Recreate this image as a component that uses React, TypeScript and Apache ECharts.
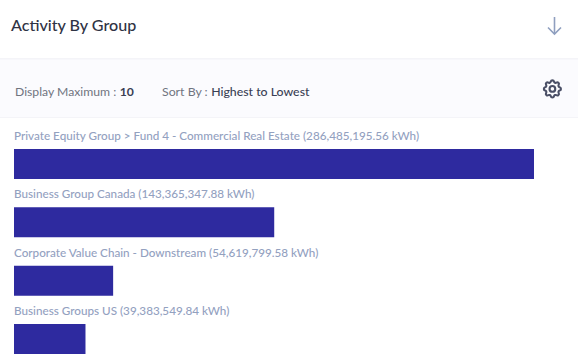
import React, { useEffect, useRef } from "react";
import * as echarts from "echarts";

const title = "Activity By Group";
const categories = [
  "Private Equity Group > Fund 4 - Commercial Real Estate",
  "Business Group Canada",
  "Corporate Value Chain - Downstream",
  "Business Groups US",
];
const values = [286485195.56, 143365347.88, 54619799.58, 39383549.84];
const unit = "kWh";

const FONT = "Lato";
const GEAR =
  "M10.325 4.317c.426-1.756 2.924-1.756 3.35 0a1.724 1.724 0 0 0 2.573 1.066c1.543-.94 3.31.826 2.37 2.37a1.724 1.724 0 0 0 1.065 2.572c1.756.426 1.756 2.924 0 3.35a1.724 1.724 0 0 0-1.066 2.573c.94 1.543-.826 3.31-2.37 2.37a1.724 1.724 0 0 0-2.572 1.065c-.426 1.756-2.924 1.756-3.35 0a1.724 1.724 0 0 0-2.573-1.066c-1.543.94-3.31-.826-2.37-2.37a1.724 1.724 0 0 0-1.065-2.572c-1.756-.426-1.756-2.924 0-3.35a1.724 1.724 0 0 0 1.066-2.573c-.94-1.543.826-3.31 2.37-2.37c1 .608 2.296.07 2.572-1.065zM9 12a3 3 0 1 0 6 0a3 3 0 0 0-6 0";
echarts.graphic.registerShape("gearIcon", echarts.graphic.extendPath(GEAR, {}) as any);

const fmt = (v: number) =>
  v.toLocaleString("en-US", { minimumFractionDigits: 2, maximumFractionDigits: 2 });

export default function App() {
  const ref = useRef<HTMLDivElement>(null);
  useEffect(() => {
    document.body.style.margin = "0";
    const chart = echarts.init(ref.current!, undefined, { renderer: "svg" });
    chart.setOption({
      animation: false,
      backgroundColor: "#ffffff",
      grid: { left: 14, top: 134.8, width: 520, height: 233.4 },
      xAxis: { type: "value", min: 0, max: values[0], show: false },
      yAxis: {
        type: "category",
        inverse: true,
        data: categories,
        show: false,
      },
      series: [
        {
          type: "bar",
          data: values,
          barWidth: 30,
          silent: true,
          itemStyle: { color: "#2e2a9f" },
          label: {
            show: true,
            position: [0, -14],
            align: "left",
            verticalAlign: "middle",
            color: "#93a1bf",
            fontFamily: FONT,
            fontSize: 11.7,
            fontWeight: 500,
            formatter: (p: any) => `${p.name} (${fmt(p.value)} ${unit})`,
          },
        },
      ],
      graphic: [
        { type: "rect", shape: { x: 0, y: 59, width: 578, height: 59 }, style: { fill: "#fbfbfe" } },
        { type: "rect", shape: { x: 0, y: 58, width: 578, height: 1.5 }, style: { fill: "#f4f4f8" } },
        { type: "rect", shape: { x: 0, y: 117, width: 578, height: 1 }, style: { fill: "#f4f4f8" } },
        {
          type: "text",
          x: 11,
          y: 24.5,
          style: {
            text: title,
            fill: "#2f3344",
            font: `500 16.1px ${FONT}`,
            textVerticalAlign: "middle",
          },
        },
        {
          type: "text",
          x: 15,
          y: 91,
          style: {
            text: "{a|Display Maximum : }{b|10}",
            textVerticalAlign: "middle",
            rich: {
              a: { fill: "#70747f", font: `400 12.2px ${FONT}` },
              b: { fill: "#3a3f55", font: `700 12.2px ${FONT}` },
            },
          },
        },
        {
          type: "text",
          x: 162,
          y: 91,
          style: {
            text: "{a|Sort By : }{b|Highest to Lowest}",
            textVerticalAlign: "middle",
            rich: {
              a: { fill: "#70747f", font: `400 12.3px ${FONT}` },
              b: { fill: "#3a3f55", font: `500 12.3px ${FONT}` },
            },
          },
        },
        {
          type: "polyline",
          shape: { points: [[554.5, 17], [554.5, 34]] },
          style: { stroke: "#8f9fbf", lineWidth: 1.6, fill: "none" },
        },
        {
          type: "polyline",
          shape: { points: [[548, 27.5], [554.5, 34], [561, 27.5]] },
          style: { stroke: "#8f9fbf", lineWidth: 1.6, fill: "none" },
        },
        {
          type: "gearIcon",
          x: 541,
          y: 77.5,
          scaleX: 0.95,
          scaleY: 0.95,
          style: { fill: "none", stroke: "#4a4f66", lineWidth: 2.2 },
        },
      ],
    });
    return () => chart.dispose();
  }, []);
  return (
    <div style={{ width: 578, height: 355, overflow: "hidden" }}>
      <div ref={ref} style={{ width: 578, height: 420 }} />
    </div>
  );
}
